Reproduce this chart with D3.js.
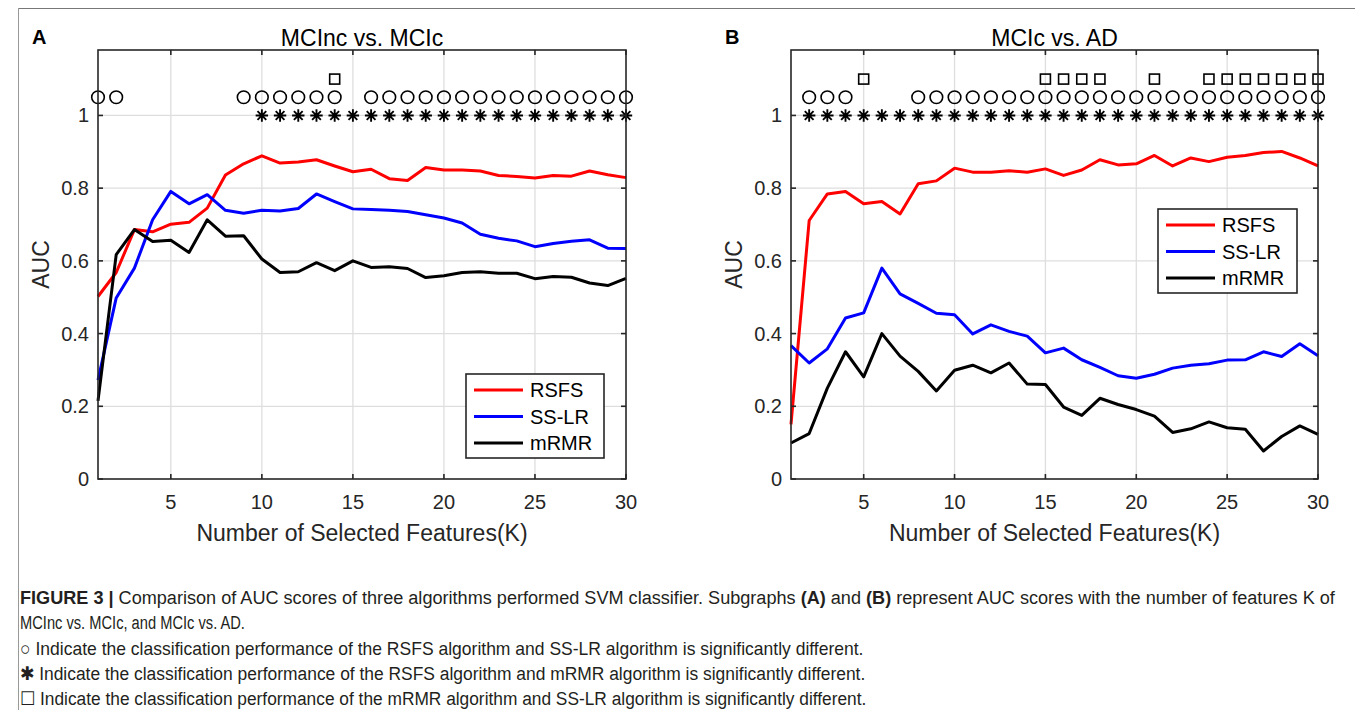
<!DOCTYPE html>
<html><head><meta charset="utf-8">
<script src="https://cdn.jsdelivr.net/npm/d3@7"></script>
<style>body{margin:0;background:#fff}svg{display:block}</style>
</head><body>
<svg id="c" width="1355" height="710"></svg>
<script>
// ---------- data ----------
const K = d3.range(1, 31);
const seriesNames = ["RSFS", "SS-LR", "mRMR"];
const seriesColors = ["#ff0000", "#0000ff", "#000000"];

const A_RSFS = [0.502,0.568,0.686,0.680,0.701,0.706,0.745,0.836,0.867,0.889,0.869,0.872,0.878,0.861,0.845,0.852,0.826,0.821,0.857,0.850,0.850,0.847,0.835,0.832,0.828,0.835,0.833,0.847,0.837,0.829];
const A_SSLR = [0.272,0.498,0.580,0.713,0.791,0.757,0.782,0.739,0.731,0.739,0.737,0.744,0.784,0.763,0.743,0.741,0.739,0.736,0.727,0.718,0.704,0.673,0.662,0.655,0.639,0.648,0.654,0.658,0.635,0.634];
const A_mRMR = [0.215,0.617,0.686,0.653,0.657,0.623,0.713,0.668,0.669,0.605,0.568,0.570,0.595,0.573,0.600,0.582,0.584,0.579,0.554,0.559,0.568,0.570,0.566,0.566,0.551,0.557,0.555,0.539,0.532,0.552];

const B_RSFS = [0.150,0.711,0.784,0.791,0.757,0.763,0.729,0.812,0.820,0.855,0.844,0.844,0.848,0.844,0.853,0.835,0.850,0.878,0.864,0.867,0.890,0.861,0.883,0.873,0.885,0.890,0.898,0.901,0.883,0.861];
const B_SSLR = [0.367,0.319,0.358,0.443,0.457,0.580,0.509,0.483,0.456,0.452,0.399,0.424,0.406,0.393,0.347,0.360,0.328,0.307,0.284,0.277,0.288,0.305,0.313,0.317,0.327,0.328,0.350,0.337,0.372,0.339];
const B_mRMR = [0.099,0.125,0.250,0.350,0.281,0.400,0.338,0.296,0.242,0.299,0.313,0.292,0.319,0.261,0.260,0.198,0.175,0.222,0.205,0.191,0.173,0.128,0.138,0.157,0.141,0.137,0.077,0.117,0.146,0.123];

// significance markers (K values)
const A_circles = [1,2,9,10,11,12,13,14,16,17,18,19,20,21,22,23,24,25,26,27,28,29,30];
const A_stars   = d3.range(10, 31);
const A_squares = [14];
const B_circles = [2,3,4,8,9,10,11,12,13,14,15,16,17,18,19,20,21,22,23,24,25,26,27,28,29,30];
const B_stars   = d3.range(2, 31);
const B_squares = [5,15,16,17,18,21,24,25,26,27,28,29,30];

const markerLevels = {circle: 1.05, star: 1.0, square: 1.1};
const xTicks = [5,10,15,20,25,30];
const yTicks = [0,0.2,0.4,0.6,0.8,1];
const yTickLabels = ["0","0.2","0.4","0.6","0.8","1"];

const panels = [
  {label:"A", title:"MCInc vs. MCIc", series:[A_RSFS,A_SSLR,A_mRMR], circles:A_circles, stars:A_stars, squares:A_squares,
   left:98, right:626, legend:{x:466, y:374, w:138, h:84}},
  {label:"B", title:"MCIc vs. AD", series:[B_RSFS,B_SSLR,B_mRMR], circles:B_circles, stars:B_stars, squares:B_squares,
   left:791, right:1318, legend:{x:1158, y:209, w:139, h:84}}
];

const captionLines = [
  [["FIGURE 3 | ",true],["Comparison of AUC scores of three algorithms performed SVM classifier. Subgraphs ",false],["(A)",true],[" and ",false],["(B)",true],[" represent AUC scores with the number of features K of",false]],
  [["MCInc vs. MCIc, and MCIc vs. AD.",false]],
  [["○ Indicate the classification performance of the RSFS algorithm and SS-LR algorithm is significantly different.",false]],
  [["✱ Indicate the classification performance of the RSFS algorithm and mRMR algorithm is significantly different.",false]],
  [["☐ Indicate the classification performance of the mRMR algorithm and SS-LR algorithm is significantly different.",false]]
];

// ---------- drawing ----------
const svg = d3.select("#c");
const FONT = "'Liberation Sans', Arial, Helvetica, sans-serif";
const AX = "#262626";
const TOP = 50, BOTTOM = 479;

// outer frame
svg.append("line").attr("x1",18).attr("x2",1355).attr("y1",8.5).attr("y2",8.5).attr("stroke","#777").attr("stroke-width",1.2);
svg.append("line").attr("x1",18.5).attr("x2",18.5).attr("y1",8).attr("y2",710).attr("stroke","#999").attr("stroke-width",1);

panels.forEach(p => {
  const x = d3.scaleLinear().domain([1,30]).range([p.left, p.right]);
  const y = d3.scaleLinear().domain([0,1.18]).range([BOTTOM, TOP]);
  const g = svg.append("g");

  // grid
  g.selectAll(".gx").data(xTicks.filter(t=>t<30)).join("line")
    .attr("x1",d=>x(d)).attr("x2",d=>x(d)).attr("y1",TOP).attr("y2",BOTTOM)
    .attr("stroke","#dedede").attr("stroke-width",1.3);
  g.selectAll(".gy").data(yTicks.filter(t=>t>0)).join("line")
    .attr("x1",p.left).attr("x2",p.right).attr("y1",d=>y(d)).attr("y2",d=>y(d))
    .attr("stroke","#dedede").attr("stroke-width",1.3);

  // series lines
  const line = d3.line().x((d,i)=>x(K[i])).y(d=>y(d));
  p.series.forEach((s,i)=>{
    g.append("path").datum(s).attr("d",line).attr("fill","none")
      .attr("stroke",seriesColors[i]).attr("stroke-width",3).attr("stroke-linejoin","round");
  });

  // markers
  g.selectAll(".mc").data(p.circles).join("circle")
    .attr("cx",d=>x(d)).attr("cy",y(markerLevels.circle)).attr("r",6.3)
    .attr("fill","none").attr("stroke","#000").attr("stroke-width",1.6);
  g.selectAll(".ms").data(p.squares).join("rect")
    .attr("x",d=>x(d)-5).attr("y",y(markerLevels.square)-5).attr("width",10).attr("height",10)
    .attr("fill","none").attr("stroke","#000").attr("stroke-width",1.6);
  const st = 6.2, sd = st*0.7071;
  g.selectAll(".mst").data(p.stars).join("path")
    .attr("transform",d=>`translate(${x(d)},${y(markerLevels.star)})`)
    .attr("d",`M${-st},0L${st},0M0,${-st}L0,${st}M${-sd},${-sd}L${sd},${sd}M${-sd},${sd}L${sd},${-sd}`)
    .attr("stroke","#000").attr("stroke-width",1.9).attr("fill","none");

  // box
  g.append("rect").attr("x",p.left).attr("y",TOP).attr("width",p.right-p.left).attr("height",BOTTOM-TOP)
    .attr("fill","none").attr("stroke",AX).attr("stroke-width",1.6);

  // ticks (inward, all four sides)
  const tl = 5;
  xTicks.forEach(t=>{
    g.append("line").attr("x1",x(t)).attr("x2",x(t)).attr("y1",BOTTOM).attr("y2",BOTTOM-tl).attr("stroke",AX).attr("stroke-width",1.6);
    g.append("line").attr("x1",x(t)).attr("x2",x(t)).attr("y1",TOP).attr("y2",TOP+tl).attr("stroke",AX).attr("stroke-width",1.6);
  });
  yTicks.forEach(t=>{
    g.append("line").attr("x1",p.left).attr("x2",p.left+tl).attr("y1",y(t)).attr("y2",y(t)).attr("stroke",AX).attr("stroke-width",1.6);
    g.append("line").attr("x1",p.right).attr("x2",p.right-tl).attr("y1",y(t)).attr("y2",y(t)).attr("stroke",AX).attr("stroke-width",1.6);
  });

  // tick labels
  g.selectAll(".xl").data(xTicks).join("text")
    .attr("x",d=>x(d)).attr("y",BOTTOM+30).attr("text-anchor","middle")
    .attr("font-family",FONT).attr("font-size",20).attr("fill",AX).text(d=>d);
  g.selectAll(".yl").data(yTicks).join("text")
    .attr("x",p.left-9).attr("y",d=>y(d)+7).attr("text-anchor","end")
    .attr("font-family",FONT).attr("font-size",20).attr("fill",AX).text((d,i)=>yTickLabels[i]);

  // axis titles
  const cx = (p.left+p.right)/2;
  g.append("text").attr("x",cx).attr("y",541).attr("text-anchor","middle")
    .attr("font-family",FONT).attr("font-size",23).attr("fill",AX).text("Number of Selected Features(K)");
  g.append("text").attr("transform",`translate(${p.left-49},${(TOP+BOTTOM)/2}) rotate(-90)`)
    .attr("text-anchor","middle").attr("font-family",FONT).attr("font-size",23).attr("fill",AX).text("AUC");
  g.append("text").attr("x",cx).attr("y",46).attr("text-anchor","middle")
    .attr("font-family",FONT).attr("font-size",23).attr("fill","#000").text(p.title);
  g.append("text").attr("x",p.left-66).attr("y",44).attr("font-family",FONT).attr("font-weight","bold")
    .attr("font-size",20).attr("fill","#000").text(p.label);

  // legend
  const L = p.legend;
  const lg = g.append("g");
  lg.append("rect").attr("x",L.x).attr("y",L.y).attr("width",L.w).attr("height",L.h)
    .attr("fill","#fff").attr("stroke",AX).attr("stroke-width",1.6);
  seriesNames.forEach((n,i)=>{
    const yy = L.y + 16 + i*26.5;
    lg.append("line").attr("x1",L.x+8).attr("x2",L.x+57).attr("y1",yy).attr("y2",yy)
      .attr("stroke",seriesColors[i]).attr("stroke-width",3);
    lg.append("text").attr("x",L.x+64).attr("y",yy+7).attr("font-family",FONT).attr("font-size",20)
      .attr("fill","#000").text(n);
  });
});

// caption
const capTargets = [1336, 245, 864, 866, 867];
const capY = [604, 629, 655, 680, 705];
captionLines.forEach((parts,i)=>{
  const t = svg.append("text").attr("x",20).attr("y",capY[i])
    .attr("font-family","'Liberation Sans Narrow','Arial Narrow','Liberation Sans',Arial,sans-serif")
    .attr("font-size",19).attr("fill","#231f20");
  parts.forEach(([s,b])=>{
    t.append("tspan").attr("font-weight",b?"bold":"normal").text(s);
  });
  const w = t.node().getComputedTextLength();
  const k = (capTargets[i]-20)/w;
  t.attr("transform",`translate(20,0) scale(${k},1) translate(-20,0)`);
});
</script>
</body></html>
